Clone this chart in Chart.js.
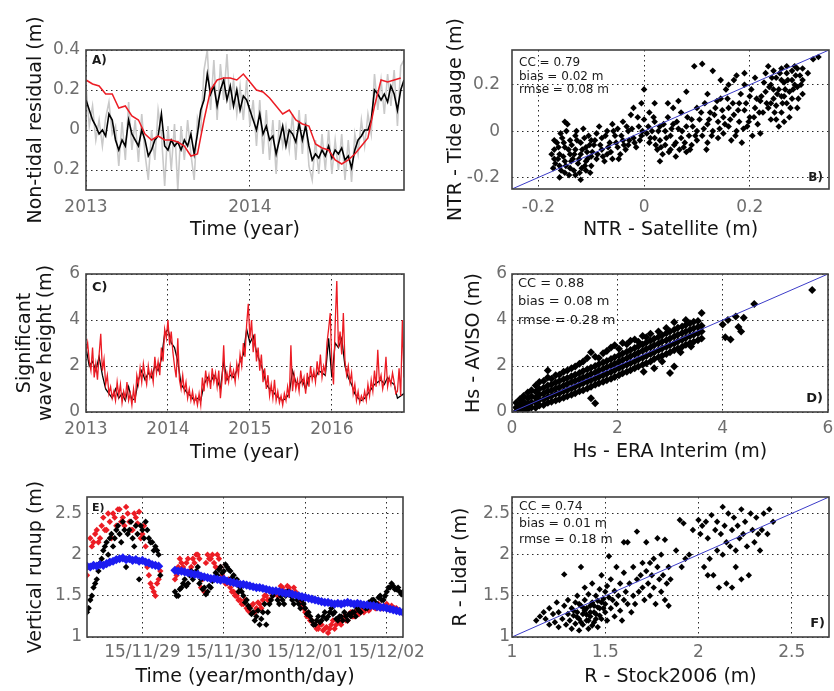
<!DOCTYPE html>
<html>
<head>
<meta charset="utf-8">
<script src="https://cdn.jsdelivr.net/npm/chart.js@4.4.1/dist/chart.umd.min.js"></script>
<style>
  body { margin: 0; background: #fff; }
  #fig { position: relative; width: 834px; height: 691px; overflow: hidden; }
  #fig canvas { position: absolute; }
</style>
</head>
<body>
<div id="fig">
  <canvas id="cA" width="417" height="245" style="left:0;top:0"></canvas>
  <canvas id="cB" width="417" height="245" style="left:417px;top:0"></canvas>
  <canvas id="cC" width="417" height="222" style="left:0;top:245px"></canvas>
  <canvas id="cD" width="417" height="222" style="left:417px;top:245px"></canvas>
  <canvas id="cF" width="417" height="224" style="left:417px;top:467px"></canvas>
  <canvas id="cE" width="430" height="224" style="left:0;top:467px"></canvas>
</div>
<script>
// ---- panel A : non-tidal residual, sampled every 0.02 / 0.04 year from 2013
const grayA = [0.22,0.02,0.12,-0.05,0.05,-0.08,0.06,0.14,-0.02,0.02,
  -0.18,0.04,-0.15,0.14,-0.10,0.05,-0.16,0.08,-0.12,-0.25,
  0.00,-0.15,0.10,-0.02,-0.28,0.02,-0.20,0.03,-0.30,0.02,
  -0.15,0.05,-0.12,-0.25,0.06,0.00,0.30,0.40,0.10,0.35,
  0.05,0.33,0.15,0.38,0.10,0.25,0.08,0.22,0.05,0.25,
  0.02,0.15,-0.08,0.15,-0.12,0.10,-0.15,0.05,-0.22,0.05,
  -0.08,0.02,-0.10,0.08,-0.15,0.10,-0.12,0.08,-0.18,-0.25,
  -0.05,-0.22,-0.02,-0.20,0.00,-0.22,-0.05,-0.20,-0.02,-0.25,
  -0.05,-0.26,-0.02,-0.12,0.05,-0.08,0.08,-0.02,0.28,0.10,
  0.25,0.08,0.28,0.12,0.30,0.02,0.32,0.35];
const blackA = [0.15,0.10,0.05,0.02,-0.02,0.00,-0.03,0.08,0.05,-0.05,
  -0.10,-0.05,-0.08,0.05,-0.02,-0.05,-0.08,0.00,-0.05,-0.13,
  -0.10,-0.05,-0.03,0.08,-0.08,-0.10,-0.05,-0.08,-0.06,-0.10,
  -0.05,-0.08,-0.02,-0.12,-0.02,0.10,0.15,0.28,0.18,0.22,
  0.12,0.20,0.25,0.15,0.22,0.12,0.20,0.10,0.17,0.15,
  0.10,0.05,0.00,0.08,-0.02,0.02,-0.05,-0.03,-0.12,-0.05,
  0.02,-0.08,0.00,-0.02,-0.06,0.03,-0.05,0.02,-0.08,-0.15,
  -0.12,-0.14,-0.10,-0.13,-0.08,-0.14,-0.10,-0.12,-0.09,-0.15,
  -0.13,-0.19,-0.10,-0.05,-0.03,0.00,0.00,0.05,0.20,0.18,
  0.15,0.18,0.14,0.22,0.18,0.10,0.20,0.25];
const redA = [0.25,0.23,0.22,0.18,0.18,0.11,0.12,0.07,0.05,-0.02,
  -0.05,-0.03,-0.05,-0.05,-0.06,-0.08,-0.13,-0.12,0.05,0.20,
  0.25,0.26,0.26,0.25,0.28,0.24,0.20,0.19,0.16,0.12,
  0.08,0.10,0.05,0.03,0.02,-0.07,-0.09,-0.10,-0.15,-0.17,
  -0.15,-0.12,-0.08,-0.04,0.12,0.25,0.24,0.25,0.26];
const xTicksA = [2013, 2014];
const yTicksA = [-0.2, 0, 0.2, 0.4];
const yLabelsA = ['0.2', '0', '0.2', '0.4'];

// ---- panel B : NTR satellite vs tide gauge
const ptsB = [[-0.17,-0.08],[-0.17,-0.12],[-0.165,-0.05],[-0.16,-0.15],[-0.16,-0.1],[-0.155,-0.03],[-0.15,-0.18],[-0.15,-0.13],
  [-0.15,-0.07],[-0.145,0.03],[-0.14,-0.1],[-0.14,-0.16],[-0.14,-0.04],[-0.135,-0.12],[-0.13,-0.19],[-0.13,-0.08],[-0.13,-0.02],
  [-0.125,-0.14],[-0.12,-0.21],[-0.12,-0.1],[-0.12,-0.05],[-0.115,0.01],[-0.11,-0.13],[-0.11,-0.17],[-0.11,-0.07],[-0.105,-0.02],
  [-0.1,-0.11],[-0.1,-0.15],[-0.1,-0.04],[-0.168,-0.14],[-0.158,-0.01],[-0.142,-0.19],[-0.128,0.0],[-0.118,-0.16],[-0.108,-0.09],
  [-0.175,-0.1],[-0.172,-0.16],[-0.17,-0.04],[-0.163,-0.12],[-0.162,-0.07],[-0.157,-0.17],[-0.153,-0.11],[-0.152,-0.05],
  [-0.148,-0.15],[-0.147,0.0],[-0.143,-0.08],[-0.138,-0.13],[-0.137,-0.06],[-0.133,-0.17],[-0.132,-0.1],[-0.127,-0.04],
  [-0.123,-0.12],[-0.122,-0.18],[-0.117,-0.08],[-0.113,-0.03],[-0.112,-0.15],[-0.107,-0.12],[-0.103,-0.06],[-0.102,-0.18],
  [-0.15,0.04],[-0.16,-0.2],
  [-0.095,-0.06],[-0.09,-0.01],[-0.09,-0.12],[-0.085,0.02],[-0.08,-0.08],[-0.08,-0.03],[-0.075,-0.13],[-0.07,0.0],[-0.07,-0.1],
  [-0.065,-0.05],[-0.06,0.03],[-0.06,-0.12],[-0.055,-0.02],[-0.05,-0.07],[-0.05,0.01],[-0.045,-0.1],[-0.04,-0.04],[-0.04,0.04],
  [-0.035,-0.08],[-0.03,0.0],[-0.03,-0.06],[-0.025,0.07],[-0.02,-0.03],[-0.02,0.1],[-0.015,-0.07],[-0.01,0.02],[-0.005,0.12],
  [-0.005,-0.02],[0.0,0.18],[0.0,0.05],
  [-0.098,-0.09],[-0.093,-0.04],[-0.088,-0.1],[-0.083,-0.06],[-0.078,-0.11],[-0.073,-0.02],[-0.068,-0.07],[-0.063,-0.09],
  [-0.058,0.0],[-0.053,-0.05],[-0.048,-0.12],[-0.043,-0.02],[-0.038,-0.06],[-0.033,0.02],[-0.028,-0.04],[-0.023,0.01],
  [-0.018,-0.05],[-0.012,0.06],[-0.008,-0.04],[-0.003,0.0],
  [0.005,-0.01],[0.01,0.08],[0.01,-0.05],[0.015,0.0],[0.02,-0.03],[0.02,0.04],[0.025,-0.08],[0.03,0.02],[0.03,-0.04],[0.035,-0.1],
  [0.04,0.0],[0.04,-0.06],[0.045,0.06],[0.05,-0.02],[0.05,-0.08],[0.055,0.03],[0.06,-0.05],[0.06,-0.11],[0.065,0.01],[0.07,-0.03],
  [0.07,0.08],[0.075,-0.07],[0.08,0.02],[0.08,-0.09],[0.08,0.17],[0.085,-0.02],[0.09,0.05],[0.09,-0.06],[0.095,0.28],[0.1,0.0],
  [0.1,0.1],[0.1,-0.04],[0.11,0.29],[0.03,-0.13],[0.055,0.1],
  [0.008,0.02],[0.012,-0.03],[0.018,0.06],[0.022,-0.06],[0.027,0.0],[0.032,-0.07],[0.037,0.03],[0.042,-0.03],[0.047,-0.09],
  [0.052,0.01],[0.057,-0.06],[0.062,0.04],[0.067,-0.08],[0.072,0.0],[0.077,-0.05],[0.082,0.06],[0.087,-0.08],[0.092,0.02],
  [0.097,-0.02],[0.045,0.12],[0.065,0.13],[0.02,0.12],
  [0.105,0.05],[0.11,-0.02],[0.115,0.12],[0.12,0.03],[0.12,-0.05],[0.125,0.08],[0.13,0.26],[0.13,0.0],[0.135,0.1],[0.14,0.04],
  [0.14,-0.03],[0.145,0.14],[0.15,0.06],[0.15,-0.01],[0.155,0.18],[0.16,0.02],[0.16,0.1],[0.165,-0.04],[0.17,0.07],[0.17,0.22],
  [0.175,0.0],[0.18,0.12],[0.18,0.04],[0.185,-0.05],[0.19,0.09],[0.19,0.25],[0.195,0.02],[0.2,0.15],[0.2,0.06],[0.205,-0.02],
  [0.21,0.1],[0.21,0.23],[0.215,0.03],[0.22,0.13],[0.22,-0.01],[0.175,0.24],[0.145,0.22],
  [0.108,0.08],[0.113,0.01],[0.118,-0.08],[0.123,0.05],[0.128,-0.02],[0.133,0.07],[0.138,0.13],[0.143,0.01],[0.148,0.09],
  [0.153,0.03],[0.158,0.14],[0.163,0.05],[0.168,0.12],[0.173,-0.02],[0.178,0.09],[0.183,0.16],[0.188,0.01],[0.193,0.12],
  [0.198,0.04],[0.203,0.18],[0.208,0.06],[0.213,0.14],[0.218,0.08],[0.16,0.2],[0.12,0.16],[0.19,0.2],
  [0.225,0.08],[0.23,0.17],[0.23,0.25],[0.235,0.1],[0.24,0.2],[0.24,0.05],[0.245,0.14],[0.25,0.23],[0.25,0.11],[0.255,0.18],
  [0.26,0.27],[0.26,0.08],[0.26,0.15],[0.265,0.21],[0.27,0.12],[0.27,0.25],[0.275,0.17],[0.275,0.06],[0.28,0.22],[0.28,0.14],
  [0.285,0.28],[0.29,0.19],[0.29,0.1],[0.295,0.24],[0.3,0.16],[0.3,0.27],[0.31,0.25],[0.32,0.31],[0.33,0.32],[0.235,0.28],
  [0.245,0.26],[0.255,0.02],[0.265,0.04],[0.285,0.2],[0.3,0.22],
  [0.222,0.15],[0.227,0.21],[0.232,0.12],[0.237,0.19],[0.242,0.23],[0.247,0.08],[0.252,0.16],[0.257,0.25],[0.262,0.12],
  [0.267,0.18],[0.272,0.22],[0.277,0.1],[0.282,0.18],[0.287,0.24],[0.292,0.14],[0.297,0.2],[0.27,0.28],[0.25,0.05],
  [0.28,0.26],[0.24,0.12],[0.26,0.22],[0.29,0.27],[0.265,0.15],[0.245,0.18]];
const lineB = [[-0.25,-0.25],[0.35,0.35]];
const ticksB = [-0.2, 0, 0.2];
const labelsB = ['-0.2', '0', '0.2'];

// ---- panel C : significant wave height, red every 0.02 yr, black every 0.04 yr
const redC = [2.6,3.0,2.2,1.8,2.8,1.5,2.1,1.4,2.5,3.4,
  1.8,2.3,1.2,1.6,0.8,1.1,0.6,0.9,0.5,1.3,
  0.7,1.2,0.4,0.9,0.6,1.3,0.5,0.8,0.3,1.0,
  0.4,1.6,1.2,1.9,1.3,2.1,1.6,1.2,2.0,1.5,
  1.8,1.3,2.4,1.7,2.2,1.6,2.8,2.2,3.6,3.2,
  4.0,2.9,3.5,2.6,2.0,1.5,3.2,1.4,1.0,1.6,
  0.9,1.3,0.6,1.0,0.5,0.9,0.4,0.7,0.3,0.8,
  0.3,1.5,0.9,1.8,1.2,1.6,1.0,1.9,1.3,1.7,
  1.1,1.8,0.6,1.4,2.9,1.2,1.7,1.3,2.0,1.5,
  1.8,1.3,2.1,1.6,2.5,2.0,3.0,2.4,3.8,4.7,
  3.2,4.0,2.6,3.4,2.2,2.8,1.8,2.5,1.3,1.9,
  1.0,1.6,0.7,1.2,0.6,1.4,0.5,0.9,0.4,0.7,
  0.3,0.8,0.5,1.1,0.6,2.9,0.9,1.6,1.0,1.4,
  0.9,1.8,1.2,1.5,0.8,1.7,1.1,2.0,1.4,1.8,
  1.3,2.2,1.6,2.5,1.5,2.0,1.7,3.0,3.6,4.3,
  2.0,1.2,3.8,5.7,2.8,3.5,2.5,4.3,2.2,1.6,
  2.0,1.3,1.7,0.8,1.2,0.5,0.9,0.4,0.7,0.5,
  0.9,0.5,1.2,0.7,1.4,0.9,1.8,1.1,2.7,1.3,
  1.6,1.0,1.4,2.4,1.1,1.5,1.2,1.7,1.3,0.8,
  0.9,1.9,0.7,4.0,1.5];
const blackC = [2.8,2.0,2.2,1.8,2.4,1.6,1.0,0.8,0.6,1.0,
  0.6,0.8,0.5,1.1,0.5,0.6,1.4,1.8,1.4,1.7,
  1.5,2.0,1.8,2.3,3.4,3.6,3.0,2.8,2.2,1.2,
  1.0,0.8,0.7,0.5,0.6,0.5,1.2,1.5,1.3,1.6,
  1.4,1.0,2.2,1.4,1.6,1.5,1.8,2.2,2.5,3.6,
  3.0,3.3,2.6,2.2,1.8,1.2,1.0,0.9,0.7,0.6,
  0.5,0.6,0.8,1.8,1.3,1.2,1.4,1.0,1.5,1.6,
  1.5,1.8,1.7,1.6,3.2,1.5,3.0,2.8,3.2,2.0,
  1.5,1.2,0.8,0.6,0.5,0.6,0.8,1.0,1.2,1.3,
  1.4,1.2,1.5,1.3,1.2,0.6,0.7,0.8];
const xTicksC = [2013, 2014, 2015, 2016];
const yTicksC = [0, 2, 4, 6];

// ---- panel D : Hs ERA Interim vs AVISO
const ptsD = [[0.08,0.02],[0.08,0.2],[0.08,0.4],[0.15,0.1],[0.15,0.3],[0.15,0.55],[0.22,0.05],[0.22,0.25],[0.22,0.45],[0.22,0.7],
  [0.3,0.12],[0.3,0.35],[0.3,0.6],[0.3,0.85],[0.37,0.2],[0.37,0.42],[0.37,0.68],[0.37,0.95],
  [0.45,0.18],[0.45,0.4],[0.45,0.62],[0.45,0.88],[0.45,1.15],[0.52,0.28],[0.52,0.52],[0.52,0.75],[0.52,1.0],[0.52,1.3],
  [0.6,0.3],[0.6,0.55],[0.6,0.8],[0.6,1.05],[0.6,1.35],[0.68,0.4],[0.68,0.65],[0.68,0.9],[0.68,1.15],[0.68,1.5],[0.68,1.8],
  [0.75,0.45],[0.75,0.7],[0.75,0.95],[0.75,1.2],[0.75,1.45],[0.83,0.5],[0.83,0.78],[0.83,1.02],[0.83,1.28],[0.83,1.6],
  [0.9,0.55],[0.9,0.82],[0.9,1.08],[0.9,1.35],[0.9,1.62],[0.98,0.62],[0.98,0.9],[0.98,1.15],[0.98,1.42],[0.98,1.75],
  [1.05,0.68],[1.05,0.95],[1.05,1.22],[1.05,1.48],[1.05,1.8],[1.13,0.75],[1.13,1.02],[1.13,1.3],[1.13,1.55],[1.13,1.9],
  [1.2,0.82],[1.2,1.1],[1.2,1.36],[1.2,1.62],[1.2,1.98],[1.28,0.9],[1.28,1.18],[1.28,1.44],[1.28,1.7],[1.28,2.1],
  [1.35,0.95],[1.35,1.25],[1.35,1.5],[1.35,1.78],[1.35,2.2],[1.43,1.02],[1.43,1.32],[1.43,1.58],[1.43,1.86],[1.43,2.35],
  [1.5,1.1],[1.5,1.38],[1.5,1.65],[1.5,1.92],[1.5,2.6],[1.5,0.6],[1.58,1.18],[1.58,1.46],[1.58,1.72],[1.58,2.0],[1.58,2.4],[1.58,0.38],
  [1.65,1.25],[1.65,1.52],[1.65,1.8],[1.65,2.08],[1.65,2.35],[1.73,1.32],[1.73,1.6],[1.73,1.88],[1.73,2.15],[1.73,2.55],
  [1.8,1.38],[1.8,1.66],[1.8,1.95],[1.8,2.22],[1.8,2.65],[1.88,1.45],[1.88,1.74],[1.88,2.02],[1.88,2.3],[1.88,2.8],
  [1.95,1.52],[1.95,1.82],[1.95,2.1],[1.95,2.38],[1.95,2.9],[2.03,1.6],[2.03,1.9],[2.03,2.18],[2.03,2.46],[2.03,2.75],
  [2.1,1.68],[2.1,1.98],[2.1,2.26],[2.1,2.54],[2.1,3.0],[2.18,1.75],[2.18,2.05],[2.18,2.34],[2.18,2.62],[2.18,2.95],
  [2.25,1.82],[2.25,2.12],[2.25,2.42],[2.25,2.7],[2.25,3.1],[2.33,1.9],[2.33,2.2],[2.33,2.5],[2.33,2.78],[2.33,3.15],
  [2.4,1.98],[2.4,2.28],[2.4,2.58],[2.4,2.86],[2.4,3.05],[2.48,2.05],[2.48,2.36],[2.48,2.66],[2.48,2.94],[2.48,3.3],
  [2.55,2.12],[2.55,2.44],[2.55,2.74],[2.55,3.02],[2.55,3.25],[2.63,2.2],[2.63,2.52],[2.63,2.82],[2.63,3.1],[2.63,3.4],
  [2.7,2.3],[2.7,2.6],[2.7,2.9],[2.7,3.18],[2.7,1.9],[2.78,2.38],[2.78,2.68],[2.78,2.98],[2.78,3.26],[2.78,3.5],
  [2.85,2.45],[2.85,2.76],[2.85,3.06],[2.85,3.34],[2.85,2.2],[2.93,2.52],[2.93,2.84],[2.93,3.12],[2.93,3.42],[2.93,3.65],
  [3.0,2.6],[3.0,2.9],[3.0,3.2],[3.0,3.5],[3.0,1.7],[3.08,2.68],[3.08,2.98],[3.08,3.28],[3.08,3.58],[3.08,3.9],[3.08,1.98],
  [3.15,2.76],[3.15,3.06],[3.15,3.36],[3.15,3.66],[3.23,2.84],[3.23,3.14],[3.23,3.44],[3.23,3.72],
  [3.3,2.92],[3.3,3.22],[3.3,3.5],[3.3,3.78],[3.3,4.0],[3.38,3.0],[3.38,3.3],[3.38,3.58],[3.38,3.86],
  [3.45,3.05],[3.45,3.36],[3.45,3.64],[3.45,3.92],[3.53,3.12],[3.53,3.42],[3.53,3.7],[3.53,3.96],
  [3.6,3.2],[3.6,3.5],[3.6,3.75],[3.6,4.3],[3.2,2.6],[3.4,2.85],[2.5,1.75],
  [4.0,3.8],[4.1,4.0],[4.05,3.25],[4.15,3.15],[4.25,4.15],[4.3,3.7],[4.35,3.5],[4.4,4.1],[4.6,4.7],[5.7,5.3]];
const lineD = [[0,0],[6,6]];
const ticksD = [0, 2, 4, 6];

// ---- panel E : vertical runup, sampled every 0.04 day (0 = 15/11/29), second sets 0.02 day later
const blueE1 = [1.86,1.85,1.87,1.86,1.88,1.87,1.89,1.91,1.92,1.94,1.95,1.96,1.94,1.95,1.93,1.94,1.92,1.93,1.91,1.90,1.88,1.87,1.86];
const blackE1 = [1.3,1.45,1.6,1.7,1.9,2.05,2.15,2.2,2.1,2.3,2.25,2.4,1.85,2.3,2.2,2.35,1.7,2.3,2.4,2.2,2.15,2.1,2.0];
const blackE1b = [1.35,1.5,1.65,1.8,1.95,2.1,2.0,2.25,2.2,2.35,2.15,2.3,2.25,2.4,2.1,2.25,2.35,2.2,2.3,2.15,2.05,2.05,1.75];
const redE1 = [1.75,2.2,2.15,2.3,2.2,2.45,2.3,2.4,2.5,2.35,2.55,2.45,2.58,2.4,2.3,2.45,2.52,2.25,2.1,1.75,1.6,1.5,1.7];
const redE1b = [1.85,2.1,2.25,2.15,2.35,2.3,2.5,2.2,2.45,2.55,2.4,2.35,2.5,2.3,2.5,2.38,2.2,2.35,1.85,1.65,1.55,1.65,1.8];
const blueE2 = [1.81,1.80,1.80,1.79,1.78,1.77,1.76,1.76,1.74,1.73,
  1.72,1.71,1.71,1.70,1.69,1.70,1.68,1.67,1.66,1.65,
  1.64,1.64,1.63,1.62,1.61,1.60,1.60,1.59,1.58,1.57,
  1.56,1.56,1.55,1.54,1.53,1.53,1.52,1.51,1.50,1.49,
  1.48,1.47,1.46,1.45,1.44,1.43,1.42,1.42,1.41,1.40,
  1.41,1.40,1.41,1.42,1.41,1.40,1.41,1.40,1.39,1.39,
  1.38,1.38,1.37,1.36,1.36,1.35,1.34,1.33,1.32,1.31,1.30];
const blackE2 = [1.55,1.5,1.6,1.7,1.65,1.8,1.75,1.85,1.7,1.6,
  1.55,1.6,1.7,1.75,1.85,1.8,1.85,1.8,1.75,1.7,
  1.6,1.5,1.45,1.35,1.3,1.25,1.15,1.3,1.15,1.4,
  1.5,1.55,1.4,1.45,1.5,1.55,1.45,1.5,1.4,1.45,
  1.35,1.3,1.2,1.15,1.25,1.2,1.3,1.25,1.35,1.3,
  1.2,1.25,1.3,1.2,1.25,1.3,1.35,1.3,1.4,1.35,
  1.4,1.45,1.4,1.5,1.45,1.55,1.6,1.62,1.58,1.55,1.55];
const blackE2b = [1.5,1.58,1.65,1.62,1.75,1.7,1.8,1.65,1.58,1.52,
  1.62,1.68,1.78,1.82,1.78,1.88,1.82,1.72,1.65,1.55,
  1.55,1.42,1.38,1.28,1.2,1.32,1.22,1.4,1.3,1.45,
  1.55,1.45,1.5,1.4,1.55,1.5,1.4,1.45,1.35,1.4,
  1.28,1.25,1.15,1.2,1.18,1.25,1.22,1.3,1.28,1.22,
  1.25,1.2,1.25,1.28,1.3,1.25,1.32,1.38,1.35,1.42,
  1.45,1.42,1.48,1.45,1.5,1.6,1.65,1.58,1.6,1.52,1.5];
const redE2 = [1.7,1.85,1.9,1.8,1.95,1.85,1.9,2.0,1.6,1.55,
  2.0,1.95,1.9,2.0,1.85,1.7,1.65,1.6,1.55,1.5,
  1.45,1.4,1.35,1.3,1.4,1.35,1.4,1.45,1.5,1.45,
  1.5,1.55,1.5,1.6,1.55,1.6,1.5,1.55,1.45,1.4,
  1.3,1.25,1.2,1.15,1.1,1.15,1.1,1.05,1.15,1.1,
  1.2,1.15,1.25,1.2,1.3,1.25,1.3,1.35,1.3,1.35,
  1.35,1.4,1.35,1.38,1.35,1.4,1.36,1.33,1.35,1.32,1.3];
const redE2b = [1.75,1.95,1.85,1.9,1.8,1.95,2.0,1.95,1.7,1.9,
  1.95,2.0,1.85,1.95,1.75,1.65,1.7,1.55,1.5,1.45,
  1.4,1.45,1.32,1.38,1.3,1.42,1.35,1.5,1.45,1.55,
  1.55,1.5,1.62,1.55,1.62,1.55,1.6,1.5,1.42,1.35,
  1.25,1.2,1.15,1.1,1.15,1.08,1.12,1.1,1.2,1.15,
  1.18,1.22,1.2,1.28,1.25,1.32,1.28,1.32,1.38,1.32,
  1.38,1.35,1.4,1.35,1.38,1.34,1.38,1.35,1.32,1.3,1.32];
const xTicksE = [0, 1, 2, 3];
const xLabelsE = ['15/11/29', '15/11/30', '15/12/01', '15/12/02'];
const yTicksE = [1, 1.5, 2, 2.5];

// ---- panel F : Stock2006 vs Lidar runup
const ptsF = [[1.13,1.2],[1.15,1.25],[1.17,1.3],[1.18,1.22],[1.2,1.35],[1.2,1.15],[1.22,1.28],[1.23,1.18],[1.24,1.42],[1.25,1.3],
  [1.25,1.12],[1.27,1.22],[1.28,1.38],[1.28,1.76],[1.29,1.15],[1.3,1.28],[1.3,1.45],
  [1.31,1.2],[1.32,1.35],[1.32,1.1],[1.33,1.26],[1.34,1.42],[1.34,1.16],[1.35,1.3],[1.35,1.5],[1.36,1.22],[1.36,1.08],
  [1.37,1.38],[1.37,1.85],[1.38,1.28],[1.38,1.15],[1.39,1.45],[1.39,1.6],[1.4,1.2],[1.4,1.35],[1.41,1.1],[1.41,1.52],
  [1.42,1.3],[1.42,1.25],[1.43,1.42],[1.43,1.65],[1.44,1.18],[1.44,1.38],[1.45,1.5],[1.45,1.28],[1.46,1.12],[1.46,1.44],
  [1.47,1.35],[1.47,1.58],[1.48,1.22],[1.48,1.75],[1.49,1.46],[1.5,1.3],[1.5,1.4],[1.5,1.55],
  [1.33,1.32],[1.35,1.24],[1.37,1.18],[1.39,1.32],[1.4,1.27],[1.42,1.38],[1.44,1.3],[1.45,1.22],[1.46,1.36],[1.48,1.42],
  [1.36,1.4],[1.38,1.36],[1.41,1.2],[1.43,1.14],[1.47,1.26],[1.49,1.35],
  [1.51,1.2],[1.51,1.62],[1.52,1.48],[1.52,1.98],[1.53,1.35],[1.53,1.7],[1.54,1.45],[1.55,1.25],[1.55,1.56],[1.56,1.85],
  [1.56,1.4],[1.57,1.5],[1.58,1.32],[1.58,1.65],[1.59,1.2],[1.6,1.45],[1.6,1.78],[1.6,2.15],[1.61,1.55],[1.62,1.4],
  [1.62,2.15],[1.63,1.65],[1.64,1.3],[1.65,1.5],[1.65,1.85],
  [1.66,1.4],[1.67,1.7],[1.67,2.28],[1.68,1.55],[1.69,1.75],[1.7,1.6],[1.7,1.9],[1.71,1.45],[1.72,1.8],[1.72,2.15],
  [1.73,1.65],[1.74,1.9],[1.74,1.5],[1.75,1.75],[1.76,1.6],[1.76,1.95],[1.77,1.4],[1.78,1.85],[1.78,2.2],[1.79,1.7],
  [1.8,1.55],[1.8,2.0],[1.81,1.75],[1.82,1.45],[1.82,2.18],[1.83,1.65],[1.84,1.85],[1.84,1.38],[1.85,1.7],
  [1.88,2.05],[1.9,2.42],[1.91,1.85],[1.92,2.38],[1.93,1.95],[1.95,2.0],[1.97,2.3],[2.0,2.42],
  [2.01,2.25],[2.02,2.35],[2.03,1.85],[2.04,2.4],[2.05,1.75],[2.05,2.2],[2.06,1.95],[2.07,2.48],[2.08,1.75],[2.09,2.3],
  [2.1,2.05],[2.1,2.4],[2.11,1.6],[2.12,2.25],[2.13,2.58],[2.13,2.0],[2.14,2.35],[2.15,2.15],[2.15,1.65],[2.16,2.5],
  [2.17,2.1],[2.18,2.3],[2.18,1.6],[2.19,2.45],[2.2,2.05],[2.2,1.85],[2.21,2.35],[2.22,2.2],[2.23,2.55],[2.23,1.7],
  [2.24,2.25],[2.25,2.4],[2.26,2.1],[2.27,1.75],[2.28,2.5],[2.29,2.3],[2.3,2.15],[2.31,2.45],[2.32,2.25],[2.34,2.3],
  [2.35,2.5],[2.37,2.25],[2.4,2.4],[2.38,2.55],[2.33,2.05]];
const lineF = [[1,1],[2.7,2.7]];
const ticksF = [1, 1.5, 2, 2.5];

// ---------------------------------------------------------------
const FONT = 'DejaVu Sans';
const RED = '#ec1c24';
const BLUE = '#1c1cf0';
const LINEBLUE = '#3c3cc8';

const series = (ys, t0, dt) => ys.map((y, i) => ({x: t0 + i * dt, y: y}));
const pairs = p => p.map(d => ({x: d[0], y: d[1]}));

// frame round the plot area and the text inside it
const framePlugin = {
  id: 'frame',
  afterDraw(chart, args, opts) {
    const ctx = chart.ctx, a = chart.chartArea;
    ctx.save();
    ctx.strokeStyle = '#404040';
    ctx.lineWidth = 1.6;
    ctx.strokeRect(a.left, a.top, a.right - a.left, a.bottom - a.top);
    ctx.fillStyle = '#1a1a1a';
    ctx.textBaseline = 'middle';
    (opts.notes || []).forEach(n => {
      ctx.font = n.font;
      ctx.textAlign = n.align || 'left';
      ctx.fillText(n.text, n.x, n.y);
    });
    ctx.restore();
  }
};

function axis(min, max, ticks, labels, title, o) {
  return {
    type: 'linear',
    min: min,
    max: max,
    afterBuildTicks: s => { s.ticks = ticks.map(v => ({value: v})); },
    afterFit: s => {
      if (s.isHorizontal()) { s.height = o.size; s.paddingLeft = 0; s.paddingRight = 0; }
      else { s.width = o.size; s.paddingTop = 0; s.paddingBottom = 0; }
    },
    ticks: {
      autoSkip: false,
      maxRotation: 0,
      padding: o.tickPad,
      color: '#6e6e6e',
      font: {family: FONT, size: 17},
      callback: (v, i) => labels[i]
    },
    grid: {drawTicks: false, color: '#2a2a2a', lineWidth: 1},
    border: {display: false, dash: [1.5, 3.5]},
    title: {
      display: true,
      text: title,
      color: '#141414',
      font: {family: FONT, size: 19, lineHeight: o.lh || 1.2},
      padding: o.titlePad
    }
  };
}

function panel(id, pad, datasets, xAxis, yAxis, notes) {
  return new Chart(document.getElementById(id), {
    type: 'scatter',
    data: {datasets: datasets},
    options: {
      responsive: false,
      animation: false,
      events: [],
      devicePixelRatio: 1,
      layout: {padding: pad},
      plugins: {legend: {display: false}, tooltip: {enabled: false}, frame: {notes: notes}},
      scales: {x: xAxis, y: yAxis}
    },
    plugins: [framePlugin]
  });
}

const lineDs = (data, color, width) => ({data: data, showLine: true, borderColor: color, borderWidth: width, pointRadius: 0, tension: 0});
const dotDs = (data, color, r) => ({data: data, backgroundColor: color, borderWidth: 0, pointStyle: 'rectRot', pointRadius: r});

// A
panel('cA', {top: 50, right: 13, left: 0, bottom: 0}, [
  lineDs(series(redA, 2013, 0.04), RED, 1.5),
  lineDs(series(blackA, 2013, 0.02), '#000', 1.6),
  lineDs(series(grayA, 2013, 0.02), '#c9c9c9', 1.6)
],
  axis(2013, 2014.94, xTicksA, xTicksA.map(String), 'Time (year)', {size: 55, tickPad: 7, titlePad: {top: 0, bottom: 4}}),
  axis(-0.3, 0.4, yTicksA, yLabelsA, 'Non-tidal residual (m)', {size: 86, tickPad: 6, titlePad: {top: 25, bottom: 0}}),
  [{text: 'A)', x: 92, y: 61, font: 'bold 12px "DejaVu Sans"'}]);

// B
panel('cB', {top: 50, right: 5, left: 0, bottom: 0}, [
  lineDs(pairs(lineB), LINEBLUE, 1),
  dotDs(pairs(ptsB), '#000', 3.3)
],
  axis(-0.25, 0.35, ticksB, labelsB, 'NTR - Satellite (m)', {size: 56, tickPad: 8, titlePad: {top: 0, bottom: 4}}),
  axis(-0.25, 0.35, ticksB, labelsB, 'NTR - Tide gauge (m)', {size: 95, tickPad: 12, titlePad: {top: 28, bottom: 0}}),
  [{text: 'CC = 0.79', x: 102, y: 63, font: '12px "DejaVu Sans"'},
   {text: 'bias = 0.02 m', x: 102, y: 77, font: '12px "DejaVu Sans"'},
   {text: 'rmse = 0.08 m', x: 102, y: 90, font: '12px "DejaVu Sans"'},
   {text: 'B)', x: 406, y: 178, align: 'right', font: 'bold 12px "DejaVu Sans"'}]);

// C
panel('cC', {top: 29, right: 13, left: 0, bottom: 0}, [
  lineDs(series(redC, 2013, 0.02), RED, 1.3),
  lineDs(series(blackC, 2013, 0.04), '#000', 1.3)
],
  axis(2013, 2016.88, xTicksC, xTicksC.map(String), 'Time (year)', {size: 55, tickPad: 7, titlePad: {top: 0, bottom: 3}}),
  axis(0, 6, yTicksC, yTicksC.map(String), ['Significant', 'wave height (m)'], {size: 86, tickPad: 6, lh: 1.1, titlePad: {top: 15, bottom: 0}}),
  [{text: 'C)', x: 92, y: 43, font: 'bold 13px "DejaVu Sans"'}]);

// D
panel('cD', {top: 29, right: 6, left: 0, bottom: 0}, [
  lineDs(pairs(lineD), LINEBLUE, 1),
  dotDs(pairs(ptsD), '#000', 4)
],
  axis(0, 6, ticksD, ticksD.map(String), 'Hs - ERA Interim (m)', {size: 55, tickPad: 6, titlePad: {top: 0, bottom: 4}}),
  axis(0, 6, ticksD, ticksD.map(String), 'Hs - AVISO (m)', {size: 95, tickPad: 5, titlePad: {top: 46, bottom: 0}}),
  [{text: 'CC = 0.88', x: 101, y: 39, font: '13px "DejaVu Sans"'},
   {text: 'bias = 0.08 m', x: 101, y: 57, font: '13px "DejaVu Sans"'},
   {text: 'rmse = 0.28 m', x: 101, y: 76, font: '13px "DejaVu Sans"'},
   {text: 'D)', x: 406, y: 154, align: 'right', font: 'bold 13px "DejaVu Sans"'}]);

// E
const tE1 = -0.68, tE2 = 0.40, dtE = 0.04, shiftE = 0.02;
panel('cE', {top: 30, right: 27, left: 0, bottom: 0}, [
  dotDs(series(blueE1, tE1, dtE).concat(series(blueE2, tE2, dtE)), BLUE, 4.6),
  dotDs(series(blackE1, tE1, dtE).concat(series(blackE1b, tE1 + shiftE, dtE), series(blackE2, tE2, dtE), series(blackE2b, tE2 + shiftE, dtE)), '#000', 3.2),
  dotDs(series(redE1, tE1, dtE).concat(series(redE1b, tE1 + shiftE, dtE), series(redE2, tE2, dtE), series(redE2b, tE2 + shiftE, dtE)), RED, 3.2)
],
  axis(-0.68, 3.2, xTicksE, xLabelsE, 'Time (year/month/day)', {size: 54, tickPad: 5, titlePad: {top: 0, bottom: 3}}),
  axis(1, 2.7, yTicksE, yTicksE.map(String), 'Vertical runup (m)', {size: 87, tickPad: 5, titlePad: {top: 25, bottom: 0}}),
  [{text: 'E)', x: 92, y: 41, font: 'bold 11px "DejaVu Sans"'}]);

// F
panel('cF', {top: 30, right: 5, left: 0, bottom: 0}, [
  lineDs(pairs(lineF), LINEBLUE, 1),
  dotDs(pairs(ptsF), '#000', 3.2)
],
  axis(1, 2.7, ticksF, ticksF.map(String), 'R - Stock2006 (m)', {size: 54, tickPad: 5, titlePad: {top: 0, bottom: 3}}),
  axis(1, 2.7, ticksF, ticksF.map(String), 'R - Lidar (m)', {size: 95, tickPad: 2, titlePad: {top: 33, bottom: 0}}),
  [{text: 'CC = 0.74', x: 102, y: 40, font: '12.5px "DejaVu Sans"'},
   {text: 'bias = 0.01 m', x: 102, y: 57, font: '12.5px "DejaVu Sans"'},
   {text: 'rmse = 0.18 m', x: 102, y: 73, font: '12.5px "DejaVu Sans"'},
   {text: 'F)', x: 408, y: 157, align: 'right', font: 'bold 13px "DejaVu Sans"'}]);
</script>
</body>
</html>
